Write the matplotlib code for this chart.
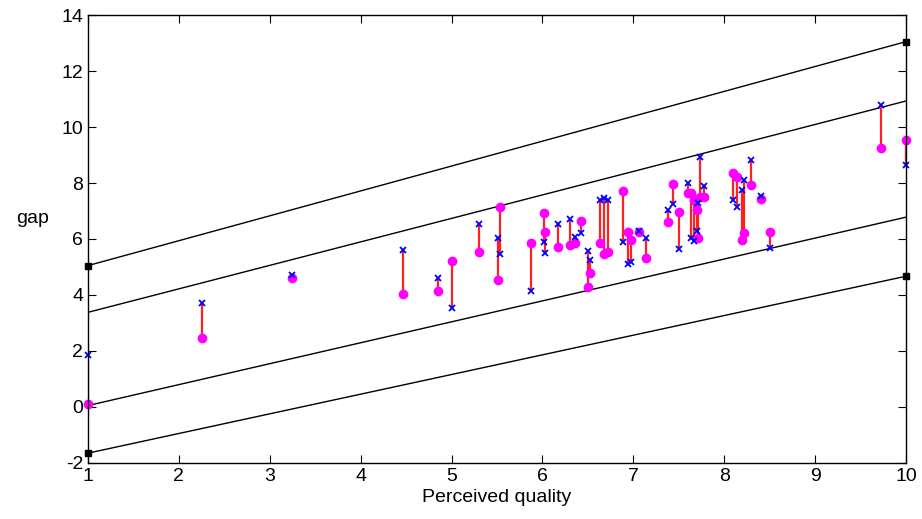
import matplotlib.pyplot as plt

plt.rcParams['font.family'] = ['Liberation Sans', 'DejaVu Sans']
plt.rcParams['axes.unicode_minus'] = False

# perceived quality, gap (blue x) and gap (magenta dot) for each case
quality = [1.00, 2.25, 3.24, 4.47, 4.85, 5.00, 5.30, 5.51, 5.53, 5.88,
           6.02, 6.03, 6.17, 6.30, 6.36, 6.42, 6.50, 6.52, 6.63, 6.68,
           6.72, 6.89, 6.94, 6.98, 7.06, 7.14, 7.38, 7.44, 7.50, 7.60,
           7.64, 7.67, 7.70, 7.73, 7.71, 7.78, 8.10, 8.14, 8.22, 8.20,
           8.29, 8.40, 8.50, 9.73, 10.0]
gap_x = [1.85, 3.70, 4.72, 5.61, 4.60, 3.55, 6.55, 6.05, 5.48, 4.14,
         5.88, 5.50, 6.52, 6.72, 6.07, 6.22, 5.58, 5.25, 7.40, 7.45,
         7.38, 5.88, 5.12, 5.18, 6.30, 6.04, 7.04, 7.25, 5.64, 8.00,
         6.04, 5.92, 6.30, 8.93, 7.29, 7.90, 7.39, 7.14, 8.10, 7.75,
         8.82, 7.52, 5.68, 10.79, 8.64]
gap_o = [0.12, 2.45, 4.62, 4.02, 4.15, 5.22, 5.55, 4.52, 7.14, 5.86,
         6.92, 6.25, 5.70, 5.80, 5.85, 6.64, 4.30, 4.80, 5.86, 5.46,
         5.52, 7.73, 6.25, 5.97, 6.25, 5.32, 6.61, 7.96, 6.96, 7.64,
         7.64, 7.39, 7.04, 7.50, 6.02, 7.50, 8.36, 8.20, 6.21, 5.95,
         7.93, 7.42, 6.25, 9.25, 9.54]

# reference lines: value at quality 1 and at quality 10
line_x = [1, 10]
bands = [(5.05, 13.05), (3.38, 10.93), (0.05, 6.78), (-1.65, 4.67)]

fig = plt.figure(figsize=(9.22, 5.19), dpi=100)
ax = fig.add_axes([0.0954, 0.108, 0.8872, 0.863])

for y0, y1 in bands:
    ax.plot(line_x, [y0, y1], color='black', lw=1.0)
for y0, y1 in (bands[0], bands[3]):
    ax.plot(line_x, [y0, y1], 's', color='black', ms=5, clip_on=False)

ax.vlines(quality, gap_x, gap_o, color='#ff2020', lw=1.6)
ax.plot(quality, gap_o, 'o', color='magenta', ms=6, clip_on=False)
ax.plot(quality, gap_x, 'x', color='blue', ms=5, mew=1.3, clip_on=False)

ax.set_xlim(1, 10)
ax.set_ylim(-2, 14)
ax.set_xticks(range(1, 11))
ax.set_yticks(range(-2, 15, 2))
ax.tick_params(direction='in', top=True, right=True, labelsize=14, length=6)
for s in ax.spines.values():
    s.set_linewidth(1.0)

ax.set_xlabel('Perceived quality', fontsize=14, labelpad=3)
ax.set_ylabel('gap', fontsize=14, rotation=0)
ax.yaxis.set_label_coords(-0.068, 0.527)

fig.savefig('out.png', dpi=100)
